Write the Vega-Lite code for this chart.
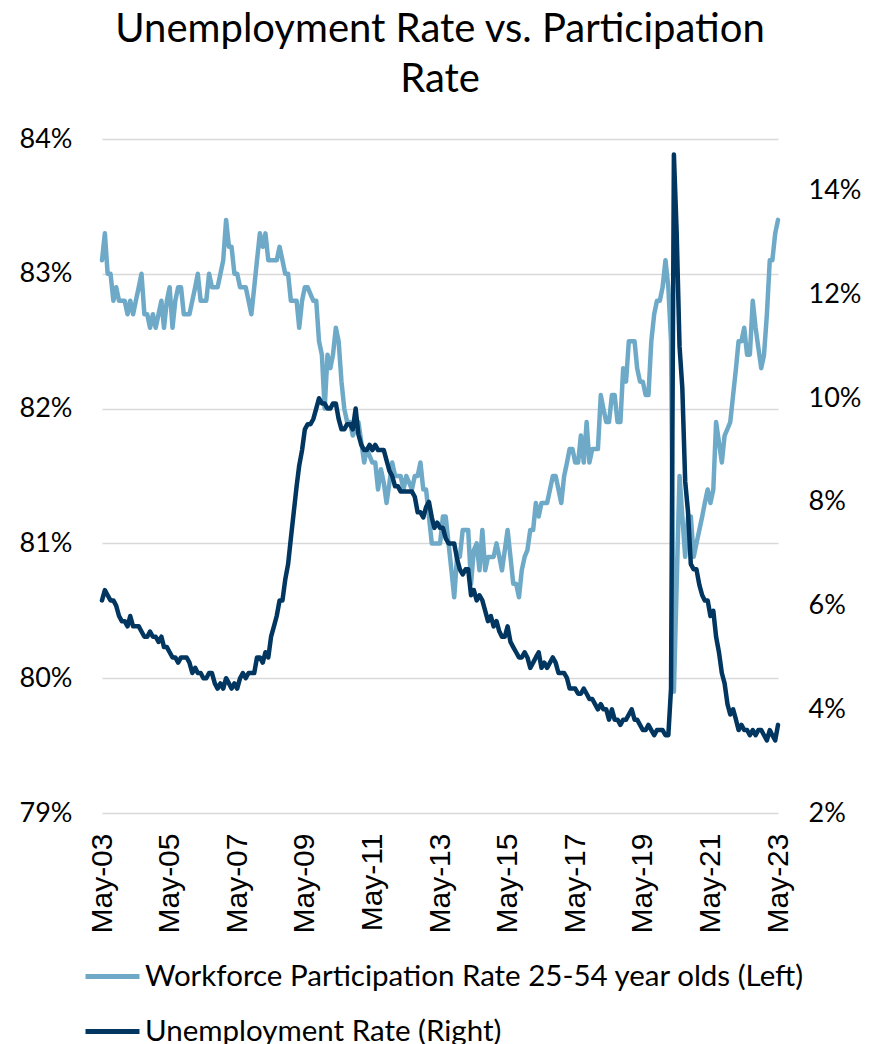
{
  "$schema": "https://vega.github.io/schema/vega-lite/v6.json",
  "width": 676,
  "height": 674,
  "autosize": {"type": "none"},
  "padding": {"left": 102, "top": 139, "right": 102, "bottom": 231},
  "background": "white",
  "title": {
    "text": ["Unemployment Rate vs. Participation", "Rate"],
    "font": "Lato",
    "fontSize": 40,
    "fontWeight": "normal",
    "color": "#000000",
    "lineHeight": 50,
    "anchor": "middle",
    "offset": 25
  },
  "config": {"view": {"stroke": null}, "font": "Lato"},
  "data": {
    "values": [
      {"month": "2003-05-01", "participation": 83.1, "unemployment": 6.1},
      {"month": "2003-06-01", "participation": 83.3, "unemployment": 6.3},
      {"month": "2003-07-01", "participation": 83.0, "unemployment": 6.2},
      {"month": "2003-08-01", "participation": 83.0, "unemployment": 6.1},
      {"month": "2003-09-01", "participation": 82.8, "unemployment": 6.1},
      {"month": "2003-10-01", "participation": 82.9, "unemployment": 6.0},
      {"month": "2003-11-01", "participation": 82.8, "unemployment": 5.8},
      {"month": "2003-12-01", "participation": 82.8, "unemployment": 5.7},
      {"month": "2004-01-01", "participation": 82.8, "unemployment": 5.7},
      {"month": "2004-02-01", "participation": 82.7, "unemployment": 5.6},
      {"month": "2004-03-01", "participation": 82.8, "unemployment": 5.8},
      {"month": "2004-04-01", "participation": 82.7, "unemployment": 5.6},
      {"month": "2004-05-01", "participation": 82.8, "unemployment": 5.6},
      {"month": "2004-06-01", "participation": 82.9, "unemployment": 5.6},
      {"month": "2004-07-01", "participation": 83.0, "unemployment": 5.5},
      {"month": "2004-08-01", "participation": 82.7, "unemployment": 5.4},
      {"month": "2004-09-01", "participation": 82.7, "unemployment": 5.4},
      {"month": "2004-10-01", "participation": 82.6, "unemployment": 5.5},
      {"month": "2004-11-01", "participation": 82.7, "unemployment": 5.4},
      {"month": "2004-12-01", "participation": 82.6, "unemployment": 5.4},
      {"month": "2005-01-01", "participation": 82.7, "unemployment": 5.3},
      {"month": "2005-02-01", "participation": 82.8, "unemployment": 5.4},
      {"month": "2005-03-01", "participation": 82.6, "unemployment": 5.2},
      {"month": "2005-04-01", "participation": 82.8, "unemployment": 5.2},
      {"month": "2005-05-01", "participation": 82.9, "unemployment": 5.1},
      {"month": "2005-06-01", "participation": 82.6, "unemployment": 5.0},
      {"month": "2005-07-01", "participation": 82.8, "unemployment": 5.0},
      {"month": "2005-08-01", "participation": 82.9, "unemployment": 4.9},
      {"month": "2005-09-01", "participation": 82.9, "unemployment": 5.0},
      {"month": "2005-10-01", "participation": 82.7, "unemployment": 5.0},
      {"month": "2005-11-01", "participation": 82.7, "unemployment": 5.0},
      {"month": "2005-12-01", "participation": 82.7, "unemployment": 4.9},
      {"month": "2006-01-01", "participation": 82.8, "unemployment": 4.7},
      {"month": "2006-02-01", "participation": 82.9, "unemployment": 4.8},
      {"month": "2006-03-01", "participation": 83.0, "unemployment": 4.7},
      {"month": "2006-04-01", "participation": 82.8, "unemployment": 4.7},
      {"month": "2006-05-01", "participation": 82.8, "unemployment": 4.6},
      {"month": "2006-06-01", "participation": 82.8, "unemployment": 4.6},
      {"month": "2006-07-01", "participation": 83.0, "unemployment": 4.7},
      {"month": "2006-08-01", "participation": 82.9, "unemployment": 4.7},
      {"month": "2006-09-01", "participation": 82.9, "unemployment": 4.5},
      {"month": "2006-10-01", "participation": 82.9, "unemployment": 4.4},
      {"month": "2006-11-01", "participation": 83.0, "unemployment": 4.5},
      {"month": "2006-12-01", "participation": 83.1, "unemployment": 4.4},
      {"month": "2007-01-01", "participation": 83.4, "unemployment": 4.6},
      {"month": "2007-02-01", "participation": 83.2, "unemployment": 4.5},
      {"month": "2007-03-01", "participation": 83.2, "unemployment": 4.4},
      {"month": "2007-04-01", "participation": 83.0, "unemployment": 4.5},
      {"month": "2007-05-01", "participation": 83.0, "unemployment": 4.4},
      {"month": "2007-06-01", "participation": 82.9, "unemployment": 4.6},
      {"month": "2007-07-01", "participation": 82.9, "unemployment": 4.7},
      {"month": "2007-08-01", "participation": 82.9, "unemployment": 4.6},
      {"month": "2007-09-01", "participation": 82.8, "unemployment": 4.7},
      {"month": "2007-10-01", "participation": 82.7, "unemployment": 4.7},
      {"month": "2007-11-01", "participation": 82.9, "unemployment": 4.7},
      {"month": "2007-12-01", "participation": 83.1, "unemployment": 5.0},
      {"month": "2008-01-01", "participation": 83.3, "unemployment": 5.0},
      {"month": "2008-02-01", "participation": 83.2, "unemployment": 4.9},
      {"month": "2008-03-01", "participation": 83.3, "unemployment": 5.1},
      {"month": "2008-04-01", "participation": 83.1, "unemployment": 5.0},
      {"month": "2008-05-01", "participation": 83.1, "unemployment": 5.4},
      {"month": "2008-06-01", "participation": 83.1, "unemployment": 5.6},
      {"month": "2008-07-01", "participation": 83.1, "unemployment": 5.8},
      {"month": "2008-08-01", "participation": 83.2, "unemployment": 6.1},
      {"month": "2008-09-01", "participation": 83.1, "unemployment": 6.1},
      {"month": "2008-10-01", "participation": 83.0, "unemployment": 6.5},
      {"month": "2008-11-01", "participation": 83.0, "unemployment": 6.8},
      {"month": "2008-12-01", "participation": 82.8, "unemployment": 7.3},
      {"month": "2009-01-01", "participation": 82.8, "unemployment": 7.8},
      {"month": "2009-02-01", "participation": 82.8, "unemployment": 8.3},
      {"month": "2009-03-01", "participation": 82.6, "unemployment": 8.7},
      {"month": "2009-04-01", "participation": 82.8, "unemployment": 9.0},
      {"month": "2009-05-01", "participation": 82.9, "unemployment": 9.4},
      {"month": "2009-06-01", "participation": 82.9, "unemployment": 9.5},
      {"month": "2009-07-01", "participation": 82.85, "unemployment": 9.5},
      {"month": "2009-08-01", "participation": 82.8, "unemployment": 9.6},
      {"month": "2009-09-01", "participation": 82.8, "unemployment": 9.8},
      {"month": "2009-10-01", "participation": 82.5, "unemployment": 10.0},
      {"month": "2009-11-01", "participation": 82.4, "unemployment": 9.9},
      {"month": "2009-12-01", "participation": 82.0, "unemployment": 9.9},
      {"month": "2010-01-01", "participation": 82.4, "unemployment": 9.8},
      {"month": "2010-02-01", "participation": 82.3, "unemployment": 9.8},
      {"month": "2010-03-01", "participation": 82.4, "unemployment": 9.9},
      {"month": "2010-04-01", "participation": 82.6, "unemployment": 9.9},
      {"month": "2010-05-01", "participation": 82.5, "unemployment": 9.6},
      {"month": "2010-06-01", "participation": 82.2, "unemployment": 9.4},
      {"month": "2010-07-01", "participation": 82.0, "unemployment": 9.4},
      {"month": "2010-08-01", "participation": 81.9, "unemployment": 9.5},
      {"month": "2010-09-01", "participation": 81.9, "unemployment": 9.5},
      {"month": "2010-10-01", "participation": 81.8, "unemployment": 9.4},
      {"month": "2010-11-01", "participation": 81.85, "unemployment": 9.8},
      {"month": "2010-12-01", "participation": 81.9, "unemployment": 9.3},
      {"month": "2011-01-01", "participation": 81.75, "unemployment": 9.1},
      {"month": "2011-02-01", "participation": 81.6, "unemployment": 9.0},
      {"month": "2011-03-01", "participation": 81.7, "unemployment": 9.0},
      {"month": "2011-04-01", "participation": 81.65, "unemployment": 9.1},
      {"month": "2011-05-01", "participation": 81.6, "unemployment": 9.0},
      {"month": "2011-06-01", "participation": 81.6, "unemployment": 9.1},
      {"month": "2011-07-01", "participation": 81.4, "unemployment": 9.0},
      {"month": "2011-08-01", "participation": 81.55, "unemployment": 9.0},
      {"month": "2011-09-01", "participation": 81.45, "unemployment": 9.0},
      {"month": "2011-10-01", "participation": 81.3, "unemployment": 8.8},
      {"month": "2011-11-01", "participation": 81.45, "unemployment": 8.6},
      {"month": "2011-12-01", "participation": 81.6, "unemployment": 8.5},
      {"month": "2012-01-01", "participation": 81.5, "unemployment": 8.3},
      {"month": "2012-02-01", "participation": 81.5, "unemployment": 8.3},
      {"month": "2012-03-01", "participation": 81.5, "unemployment": 8.2},
      {"month": "2012-04-01", "participation": 81.4, "unemployment": 8.2},
      {"month": "2012-05-01", "participation": 81.5, "unemployment": 8.2},
      {"month": "2012-06-01", "participation": 81.45, "unemployment": 8.2},
      {"month": "2012-07-01", "participation": 81.4, "unemployment": 8.2},
      {"month": "2012-08-01", "participation": 81.5, "unemployment": 8.1},
      {"month": "2012-09-01", "participation": 81.5, "unemployment": 7.8},
      {"month": "2012-10-01", "participation": 81.6, "unemployment": 7.8},
      {"month": "2012-11-01", "participation": 81.4, "unemployment": 7.7},
      {"month": "2012-12-01", "participation": 81.4, "unemployment": 7.9},
      {"month": "2013-01-01", "participation": 81.2, "unemployment": 8.0},
      {"month": "2013-02-01", "participation": 81.0, "unemployment": 7.7},
      {"month": "2013-03-01", "participation": 81.0, "unemployment": 7.5},
      {"month": "2013-04-01", "participation": 81.0, "unemployment": 7.6},
      {"month": "2013-05-01", "participation": 81.0, "unemployment": 7.5},
      {"month": "2013-06-01", "participation": 81.2, "unemployment": 7.5},
      {"month": "2013-07-01", "participation": 81.2, "unemployment": 7.3},
      {"month": "2013-08-01", "participation": 81.0, "unemployment": 7.2},
      {"month": "2013-09-01", "participation": 80.8, "unemployment": 7.2},
      {"month": "2013-10-01", "participation": 80.6, "unemployment": 7.2},
      {"month": "2013-11-01", "participation": 80.9, "unemployment": 6.9},
      {"month": "2013-12-01", "participation": 80.9, "unemployment": 6.7},
      {"month": "2014-01-01", "participation": 81.1, "unemployment": 6.6},
      {"month": "2014-02-01", "participation": 81.1, "unemployment": 6.7},
      {"month": "2014-03-01", "participation": 81.1, "unemployment": 6.7},
      {"month": "2014-04-01", "participation": 80.7, "unemployment": 6.2},
      {"month": "2014-05-01", "participation": 80.95, "unemployment": 6.3},
      {"month": "2014-06-01", "participation": 81.0, "unemployment": 6.1},
      {"month": "2014-07-01", "participation": 80.8, "unemployment": 6.2},
      {"month": "2014-08-01", "participation": 81.1, "unemployment": 6.1},
      {"month": "2014-09-01", "participation": 80.8, "unemployment": 5.9},
      {"month": "2014-10-01", "participation": 80.9, "unemployment": 5.7},
      {"month": "2014-11-01", "participation": 80.9, "unemployment": 5.8},
      {"month": "2014-12-01", "participation": 80.9, "unemployment": 5.6},
      {"month": "2015-01-01", "participation": 81.0, "unemployment": 5.7},
      {"month": "2015-02-01", "participation": 80.9, "unemployment": 5.5},
      {"month": "2015-03-01", "participation": 80.8, "unemployment": 5.4},
      {"month": "2015-04-01", "participation": 80.95, "unemployment": 5.4},
      {"month": "2015-05-01", "participation": 81.1, "unemployment": 5.6},
      {"month": "2015-06-01", "participation": 80.9, "unemployment": 5.3},
      {"month": "2015-07-01", "participation": 80.7, "unemployment": 5.2},
      {"month": "2015-08-01", "participation": 80.7, "unemployment": 5.1},
      {"month": "2015-09-01", "participation": 80.6, "unemployment": 5.0},
      {"month": "2015-10-01", "participation": 80.8, "unemployment": 5.0},
      {"month": "2015-11-01", "participation": 80.9, "unemployment": 5.1},
      {"month": "2015-12-01", "participation": 80.95, "unemployment": 5.0},
      {"month": "2016-01-01", "participation": 81.1, "unemployment": 4.8},
      {"month": "2016-02-01", "participation": 81.1, "unemployment": 4.9},
      {"month": "2016-03-01", "participation": 81.3, "unemployment": 5.0},
      {"month": "2016-04-01", "participation": 81.2, "unemployment": 5.1},
      {"month": "2016-05-01", "participation": 81.3, "unemployment": 4.8},
      {"month": "2016-06-01", "participation": 81.3, "unemployment": 4.9},
      {"month": "2016-07-01", "participation": 81.3, "unemployment": 4.8},
      {"month": "2016-08-01", "participation": 81.4, "unemployment": 4.9},
      {"month": "2016-09-01", "participation": 81.5, "unemployment": 5.0},
      {"month": "2016-10-01", "participation": 81.5, "unemployment": 4.9},
      {"month": "2016-11-01", "participation": 81.4, "unemployment": 4.7},
      {"month": "2016-12-01", "participation": 81.3, "unemployment": 4.7},
      {"month": "2017-01-01", "participation": 81.5, "unemployment": 4.7},
      {"month": "2017-02-01", "participation": 81.6, "unemployment": 4.6},
      {"month": "2017-03-01", "participation": 81.7, "unemployment": 4.4},
      {"month": "2017-04-01", "participation": 81.7, "unemployment": 4.4},
      {"month": "2017-05-01", "participation": 81.6, "unemployment": 4.4},
      {"month": "2017-06-01", "participation": 81.6, "unemployment": 4.3},
      {"month": "2017-07-01", "participation": 81.8, "unemployment": 4.3},
      {"month": "2017-08-01", "participation": 81.6, "unemployment": 4.4},
      {"month": "2017-09-01", "participation": 81.9, "unemployment": 4.3},
      {"month": "2017-10-01", "participation": 81.6, "unemployment": 4.2},
      {"month": "2017-11-01", "participation": 81.7, "unemployment": 4.2},
      {"month": "2017-12-01", "participation": 81.7, "unemployment": 4.1},
      {"month": "2018-01-01", "participation": 81.7, "unemployment": 4.0},
      {"month": "2018-02-01", "participation": 82.1, "unemployment": 4.1},
      {"month": "2018-03-01", "participation": 82.0, "unemployment": 4.0},
      {"month": "2018-04-01", "participation": 81.9, "unemployment": 4.0},
      {"month": "2018-05-01", "participation": 81.9, "unemployment": 3.8},
      {"month": "2018-06-01", "participation": 82.1, "unemployment": 4.0},
      {"month": "2018-07-01", "participation": 82.1, "unemployment": 3.8},
      {"month": "2018-08-01", "participation": 81.9, "unemployment": 3.8},
      {"month": "2018-09-01", "participation": 81.9, "unemployment": 3.7},
      {"month": "2018-10-01", "participation": 82.3, "unemployment": 3.8},
      {"month": "2018-11-01", "participation": 82.2, "unemployment": 3.8},
      {"month": "2018-12-01", "participation": 82.5, "unemployment": 3.9},
      {"month": "2019-01-01", "participation": 82.5, "unemployment": 4.0},
      {"month": "2019-02-01", "participation": 82.5, "unemployment": 3.8},
      {"month": "2019-03-01", "participation": 82.3, "unemployment": 3.8},
      {"month": "2019-04-01", "participation": 82.2, "unemployment": 3.7},
      {"month": "2019-05-01", "participation": 82.2, "unemployment": 3.6},
      {"month": "2019-06-01", "participation": 82.1, "unemployment": 3.6},
      {"month": "2019-07-01", "participation": 82.1, "unemployment": 3.7},
      {"month": "2019-08-01", "participation": 82.5, "unemployment": 3.6},
      {"month": "2019-09-01", "participation": 82.7, "unemployment": 3.5},
      {"month": "2019-10-01", "participation": 82.8, "unemployment": 3.6},
      {"month": "2019-11-01", "participation": 82.8, "unemployment": 3.6},
      {"month": "2019-12-01", "participation": 82.9, "unemployment": 3.6},
      {"month": "2020-01-01", "participation": 83.1, "unemployment": 3.5},
      {"month": "2020-02-01", "participation": 82.9, "unemployment": 3.5},
      {"month": "2020-03-01", "participation": 82.5, "unemployment": 4.4},
      {"month": "2020-04-01", "participation": 79.9, "unemployment": 14.7},
      {"month": "2020-05-01", "participation": 80.7, "unemployment": 13.2},
      {"month": "2020-06-01", "participation": 81.5, "unemployment": 11.0},
      {"month": "2020-07-01", "participation": 81.2, "unemployment": 10.2},
      {"month": "2020-08-01", "participation": 80.9, "unemployment": 8.4},
      {"month": "2020-09-01", "participation": 81.2, "unemployment": 7.8},
      {"month": "2020-10-01", "participation": 81.2, "unemployment": 6.8},
      {"month": "2020-11-01", "participation": 80.9, "unemployment": 6.7},
      {"month": "2020-12-01", "participation": 81.0, "unemployment": 6.7},
      {"month": "2021-01-01", "participation": 81.1, "unemployment": 6.4},
      {"month": "2021-02-01", "participation": 81.2, "unemployment": 6.2},
      {"month": "2021-03-01", "participation": 81.3, "unemployment": 6.1},
      {"month": "2021-04-01", "participation": 81.4, "unemployment": 6.1},
      {"month": "2021-05-01", "participation": 81.3, "unemployment": 5.8},
      {"month": "2021-06-01", "participation": 81.4, "unemployment": 5.9},
      {"month": "2021-07-01", "participation": 81.9, "unemployment": 5.4},
      {"month": "2021-08-01", "participation": 81.75, "unemployment": 5.1},
      {"month": "2021-09-01", "participation": 81.6, "unemployment": 4.7},
      {"month": "2021-10-01", "participation": 81.8, "unemployment": 4.5},
      {"month": "2021-11-01", "participation": 81.85, "unemployment": 4.1},
      {"month": "2021-12-01", "participation": 81.9, "unemployment": 3.9},
      {"month": "2022-01-01", "participation": 82.1, "unemployment": 4.0},
      {"month": "2022-02-01", "participation": 82.3, "unemployment": 3.8},
      {"month": "2022-03-01", "participation": 82.5, "unemployment": 3.6},
      {"month": "2022-04-01", "participation": 82.5, "unemployment": 3.7},
      {"month": "2022-05-01", "participation": 82.6, "unemployment": 3.6},
      {"month": "2022-06-01", "participation": 82.4, "unemployment": 3.6},
      {"month": "2022-07-01", "participation": 82.4, "unemployment": 3.5},
      {"month": "2022-08-01", "participation": 82.8, "unemployment": 3.6},
      {"month": "2022-09-01", "participation": 82.6, "unemployment": 3.5},
      {"month": "2022-10-01", "participation": 82.45, "unemployment": 3.6},
      {"month": "2022-11-01", "participation": 82.3, "unemployment": 3.6},
      {"month": "2022-12-01", "participation": 82.4, "unemployment": 3.5},
      {"month": "2023-01-01", "participation": 82.7, "unemployment": 3.4},
      {"month": "2023-02-01", "participation": 83.1, "unemployment": 3.6},
      {"month": "2023-03-01", "participation": 83.1, "unemployment": 3.5},
      {"month": "2023-04-01", "participation": 83.3, "unemployment": 3.4},
      {"month": "2023-05-01", "participation": 83.4, "unemployment": 3.7}
    ]
  },
  "encoding": {
    "x": {
      "field": "month",
      "type": "temporal",
      "scale": {
        "type": "utc",
        "domain": [
          {"year": 2003, "month": 5, "date": 1, "utc": true},
          {"year": 2023, "month": 5, "date": 1, "utc": true}
        ]
      },
      "axis": {
        "title": null,
        "values": [
          {"year": 2003, "month": 5, "date": 1, "utc": true},
          {"year": 2005, "month": 5, "date": 1, "utc": true},
          {"year": 2007, "month": 5, "date": 1, "utc": true},
          {"year": 2009, "month": 5, "date": 1, "utc": true},
          {"year": 2011, "month": 5, "date": 1, "utc": true},
          {"year": 2013, "month": 5, "date": 1, "utc": true},
          {"year": 2015, "month": 5, "date": 1, "utc": true},
          {"year": 2017, "month": 5, "date": 1, "utc": true},
          {"year": 2019, "month": 5, "date": 1, "utc": true},
          {"year": 2021, "month": 5, "date": 1, "utc": true},
          {"year": 2023, "month": 5, "date": 1, "utc": true}
        ],
        "labelExpr": "utcFormat(datum.value, '%b') + '-' + utcFormat(datum.value, '%y')",
        "labelAngle": -90,
        "labelFont": "Liberation Sans",
        "labelFontSize": 30,
        "labelColor": "#000000",
        "labelPadding": 20,
        "labelLimit": 400,
        "labelFlush": false,
        "labelOverlap": false,
        "domain": false,
        "ticks": false,
        "grid": false
      }
    }
  },
  "layer": [
    {
      "mark": {"type": "line", "strokeWidth": 4.5, "strokeCap": "round", "strokeJoin": "round"},
      "encoding": {
        "y": {
          "field": "participation",
          "type": "quantitative",
          "scale": {"domain": [79, 84], "zero": false, "nice": false},
          "axis": {
            "title": null,
            "orient": "left",
            "values": [79, 80, 81, 82, 83, 84],
            "labelExpr": "datum.value + '%'",
            "labelFont": "Lato",
            "labelFontSize": 27,
            "labelColor": "#000000",
            "labelPadding": 30,
            "domain": false,
            "ticks": false,
            "grid": true,
            "gridColor": "#D9D9D9",
            "gridWidth": 1.5
          }
        },
        "color": {
          "datum": "Workforce Participation Rate 25-54 year olds (Left)",
          "scale": {
            "domain": ["Workforce Participation Rate 25-54 year olds (Left)", "Unemployment Rate (Right)"],
            "range": ["#6EAAC8", "#003660"]
          },
          "legend": {
            "orient": "none",
            "legendX": -19,
            "legendY": 808,
            "direction": "vertical",
            "title": null,
            "padding": 0,
            "symbolType": "stroke",
            "symbolSize": 2916,
            "symbolStrokeWidth": 5,
            "labelFont": "Lato",
            "labelFontSize": 29.5,
            "labelColor": "#000000",
            "labelOffset": 3,
            "labelLimit": 900,
            "rowPadding": 11
          }
        }
      }
    },
    {
      "mark": {"type": "line", "strokeWidth": 4.5, "strokeCap": "round", "strokeJoin": "round"},
      "encoding": {
        "y": {
          "field": "unemployment",
          "type": "quantitative",
          "scale": {"domain": [2, 15], "zero": false, "nice": false},
          "axis": {
            "title": null,
            "orient": "right",
            "values": [2, 4, 6, 8, 10, 12, 14],
            "labelExpr": "datum.value + '%'",
            "labelFont": "Lato",
            "labelFontSize": 27,
            "labelColor": "#000000",
            "labelPadding": 30,
            "domain": false,
            "ticks": false,
            "grid": false
          }
        },
        "color": {"datum": "Unemployment Rate (Right)"}
      }
    }
  ],
  "resolve": {"scale": {"y": "independent"}}
}
